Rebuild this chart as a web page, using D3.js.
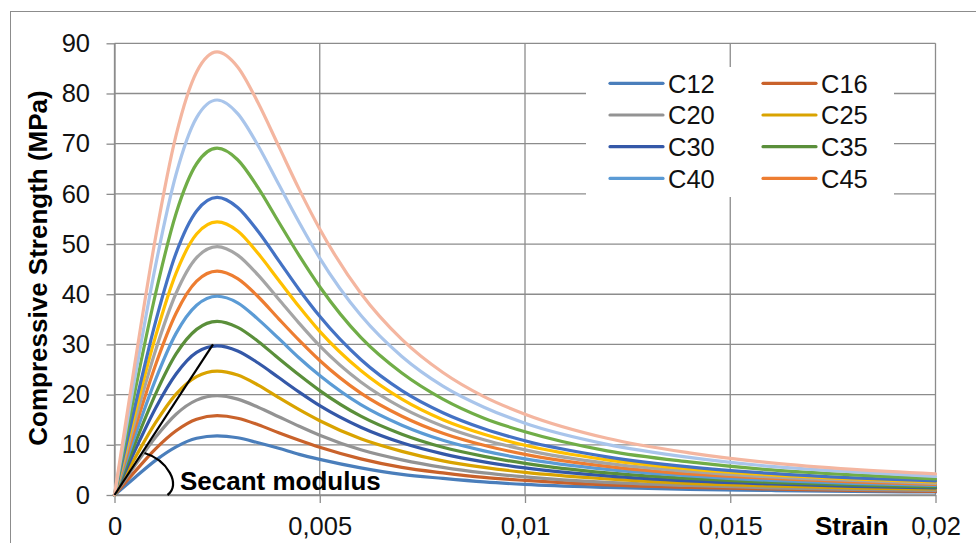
<!DOCTYPE html>
<html>
<head>
<meta charset="utf-8">
<script src="https://cdn.jsdelivr.net/npm/d3@7"></script>
<style>
  html, body { margin: 0; padding: 0; background: #fff; }
  #chart { width: 976px; height: 543px; }
  text { font-family: "Liberation Sans", Arial, sans-serif; }
</style>
</head>
<body>
<div id="chart"></div>
<script>
// strain points (x) shared by every curve
const strain = [0, 0.0005, 0.001, 0.0015, 0.002, 0.0025, 0.003, 0.0035, 0.004, 0.0045, 0.005,
  0.006, 0.007, 0.008, 0.009, 0.01, 0.012, 0.014, 0.016, 0.018, 0.02];

// stress values (MPa)
const c12 = [0, 3.5, 6.9, 9.6, 11.3, 11.8, 11.4, 10.4, 9.3, 8.1, 7.1, 5.4, 4.1, 3.3, 2.6, 2.1, 1.5, 1.1, 0.9, 0.7, 0.6];
const c16 = [0, 4.7, 9.2, 12.8, 15.1, 15.8, 15.3, 14.0, 12.4, 10.9, 9.5, 7.2, 5.5, 4.4, 3.5, 2.9, 2.0, 1.5, 1.2, 0.9, 0.7];
const c20 = [0, 5.9, 11.5, 16.1, 18.9, 19.8, 19.1, 17.5, 15.6, 13.7, 11.9, 9.0, 7.0, 5.5, 4.4, 3.6, 2.5, 1.9, 1.4, 1.1, 0.9];
const c25 = [0, 7.4, 14.4, 20.1, 23.6, 24.7, 23.9, 21.9, 19.4, 17.0, 14.8, 11.2, 8.7, 6.8, 5.5, 4.5, 3.2, 2.3, 1.8, 1.4, 1.2];
const c30 = [0, 8.9, 17.3, 24.1, 28.4, 29.7, 28.7, 26.3, 23.4, 20.5, 17.8, 13.5, 10.4, 8.2, 6.6, 5.4, 3.8, 2.8, 2.2, 1.7, 1.4];
const c35 = [0, 10.3, 20.1, 28.1, 33.0, 34.6, 33.4, 30.6, 27.2, 23.9, 20.8, 15.7, 12.1, 9.5, 7.7, 6.3, 4.4, 3.3, 2.5, 2.0, 1.6];
const c40 = [0, 11.8, 23.0, 32.2, 37.8, 39.6, 38.3, 35.0, 31.2, 27.3, 23.8, 18.0, 13.9, 10.9, 8.8, 7.2, 5.1, 3.8, 2.9, 2.3, 1.9];
const c45 = [0, 13.3, 25.9, 36.2, 42.6, 44.6, 43.1, 39.5, 35.1, 30.8, 26.8, 20.3, 15.7, 12.3, 9.9, 8.1, 5.7, 4.2, 3.3, 2.6, 2.1];
const c50 = [0, 14.8, 28.8, 40.2, 47.3, 49.5, 47.8, 43.8, 39.0, 34.2, 29.7, 22.5, 17.4, 13.7, 11.0, 9.0, 6.3, 4.7, 3.6, 2.9, 2.3];
const c55 = [0, 16.3, 31.6, 44.2, 52.0, 54.4, 52.6, 48.1, 42.8, 37.5, 32.6, 24.8, 19.1, 15.0, 12.1, 9.9, 7.0, 5.2, 4.0, 3.2, 2.6];
const c60 = [0, 17.7, 34.5, 48.2, 56.6, 59.3, 57.3, 52.5, 46.7, 40.9, 35.6, 27.0, 20.8, 16.4, 13.2, 10.8, 7.6, 5.6, 4.3, 3.4, 2.8];
const c70 = [0, 20.7, 40.1, 56.1, 66.0, 69.1, 66.8, 61.2, 54.4, 47.7, 41.5, 31.4, 24.3, 19.1, 15.3, 12.6, 8.8, 6.6, 5.0, 4.0, 3.2];
const c80 = [0, 23.5, 45.7, 63.9, 75.2, 78.7, 76.0, 69.6, 61.9, 54.3, 47.2, 35.8, 27.6, 21.7, 17.5, 14.3, 10.1, 7.5, 5.7, 4.6, 3.7];
const c90 = [0, 26.4, 51.3, 71.7, 84.3, 88.3, 85.3, 78.1, 69.5, 60.9, 53.0, 40.2, 31.0, 24.4, 19.6, 16.1, 11.3, 8.4, 6.4, 5.1, 4.2];

const names = ["C12", "C16", "C20", "C25", "C30", "C35", "C40", "C45", "C50", "C55", "C60", "C70", "C80", "C90"];
const values = [c12, c16, c20, c25, c30, c35, c40, c45, c50, c55, c60, c70, c80, c90];
const colors = ["#4a7ebb", "#c9622b", "#939393", "#d9a300", "#3458a8", "#5a8f3a", "#5b9bd5",
  "#ed7d31", "#a5a5a5", "#ffc000", "#4472c4", "#70ad47", "#a9c5eb", "#f4b6a0"];
// only the first 8 fit in the legend box
const legendCount = 8;

const yTicks = [0, 10, 20, 30, 40, 50, 60, 70, 80, 90];
const xTicks = [0, 0.005, 0.01, 0.015, 0.02];
// secant line goes to the C30 peak
const secantEnd = [0.0024, 30];

const width = 976, height = 543;
const svg = d3.select("#chart").append("svg")
  .attr("width", width).attr("height", height);

// outer chart border (right and bottom run off the picture)
svg.append("rect")
  .attr("x", 10.5).attr("y", 11.5)
  .attr("width", 1000).attr("height", 600)
  .attr("fill", "#fff").attr("stroke", "#8c8c8c").attr("stroke-width", 1);

const x = d3.scaleLinear().domain([0, 0.02]).range([114.5, 935.5]);
const y = d3.scaleLinear().domain([0, 90]).range([495, 43.3]);

const gridColor = "#8c8c8c";

// gridlines
svg.append("g").selectAll("line")
  .data(yTicks).enter().append("line")
  .attr("x1", x(0)).attr("x2", x(0.02))
  .attr("y1", d => y(d)).attr("y2", d => y(d))
  .attr("stroke", gridColor).attr("stroke-width", 1.3);

svg.append("g").selectAll("line")
  .data(xTicks).enter().append("line")
  .attr("x1", d => x(d)).attr("x2", d => x(d))
  .attr("y1", y(90)).attr("y2", y(0))
  .attr("stroke", gridColor).attr("stroke-width", 1.3);

// axes
const yAxis = d3.axisLeft(y).tickValues(yTicks).tickSize(8).tickPadding(16.5).tickSizeOuter(0);
const xAxis = d3.axisBottom(x).tickValues(xTicks).tickSize(8).tickPadding(14).tickSizeOuter(0)
  .tickFormat(d => String(d).replace(".", ","));

const gy = svg.append("g").attr("transform", `translate(${x(0)},0)`).call(yAxis);
const gx = svg.append("g").attr("transform", `translate(0,${y(0)})`).call(xAxis);
[gy, gx].forEach(g => {
  g.select(".domain").attr("stroke", gridColor).attr("stroke-width", 1.3);
  g.selectAll(".tick line").attr("stroke", gridColor).attr("stroke-width", 1.3);
  g.selectAll(".tick text")
    .attr("fill", "#111")
    .style("font-size", "25.5px")
    .style("font-family", "'Liberation Sans', Arial, sans-serif");
});

// curves
const line = d3.line()
  .x((d, i) => x(strain[i]))
  .y(d => y(d))
  .curve(d3.curveMonotoneX);

svg.append("g").selectAll("path")
  .data(values).enter().append("path")
  .attr("d", line)
  .attr("fill", "none")
  .attr("stroke", (d, i) => colors[i])
  .attr("stroke-width", 3.2)
  .attr("stroke-linejoin", "round")
  .attr("stroke-linecap", "round");

// secant modulus annotation
svg.append("line")
  .attr("x1", x(0)).attr("y1", y(0))
  .attr("x2", x(secantEnd[0])).attr("y2", y(secantEnd[1]))
  .attr("stroke", "#000").attr("stroke-width", 2.2);

const ox = x(0), oy = y(0);
svg.append("path")
  .attr("d", `M${ox + 30},${oy - 42} C${ox + 53},${oy - 35} ${ox + 67},${oy - 10} ${ox + 53},${oy}`)
  .attr("fill", "none").attr("stroke", "#000").attr("stroke-width", 2.2);

svg.append("text")
  .attr("x", 180).attr("y", 490)
  .style("font-size", "26px").style("font-weight", "bold")
  .attr("fill", "#000")
  .text("Secant modulus");

// axis titles
svg.append("text")
  .attr("x", 815).attr("y", 535)
  .style("font-size", "26px").style("font-weight", "bold")
  .attr("fill", "#000")
  .text("Strain");

svg.append("text")
  .attr("transform", `translate(47,268) rotate(-90)`)
  .attr("text-anchor", "middle")
  .style("font-size", "26px").style("font-weight", "bold")
  .attr("fill", "#000")
  .text("Compressive Strength (MPa)");

// legend
const legend = svg.append("g");
legend.append("rect")
  .attr("x", 586).attr("y", 67)
  .attr("width", 308).attr("height", 130)
  .attr("fill", "#fff");

const legendItems = legend.selectAll("g.item")
  .data(names.slice(0, legendCount)).enter().append("g")
  .attr("class", "item")
  .attr("transform", (d, i) => `translate(${i % 2 === 0 ? 610 : 763},${83.3 + Math.floor(i / 2) * 31.7})`);

legendItems.append("line")
  .attr("x1", 0).attr("x2", 53)
  .attr("y1", 0).attr("y2", 0)
  .attr("stroke", (d, i) => colors[i])
  .attr("stroke-width", 3.2)
  .attr("stroke-linecap", "round");

legendItems.append("text")
  .attr("x", 58).attr("y", 9.2)
  .style("font-size", "25.5px")
  .attr("fill", "#111")
  .text(d => d);
</script>
</body>
</html>
